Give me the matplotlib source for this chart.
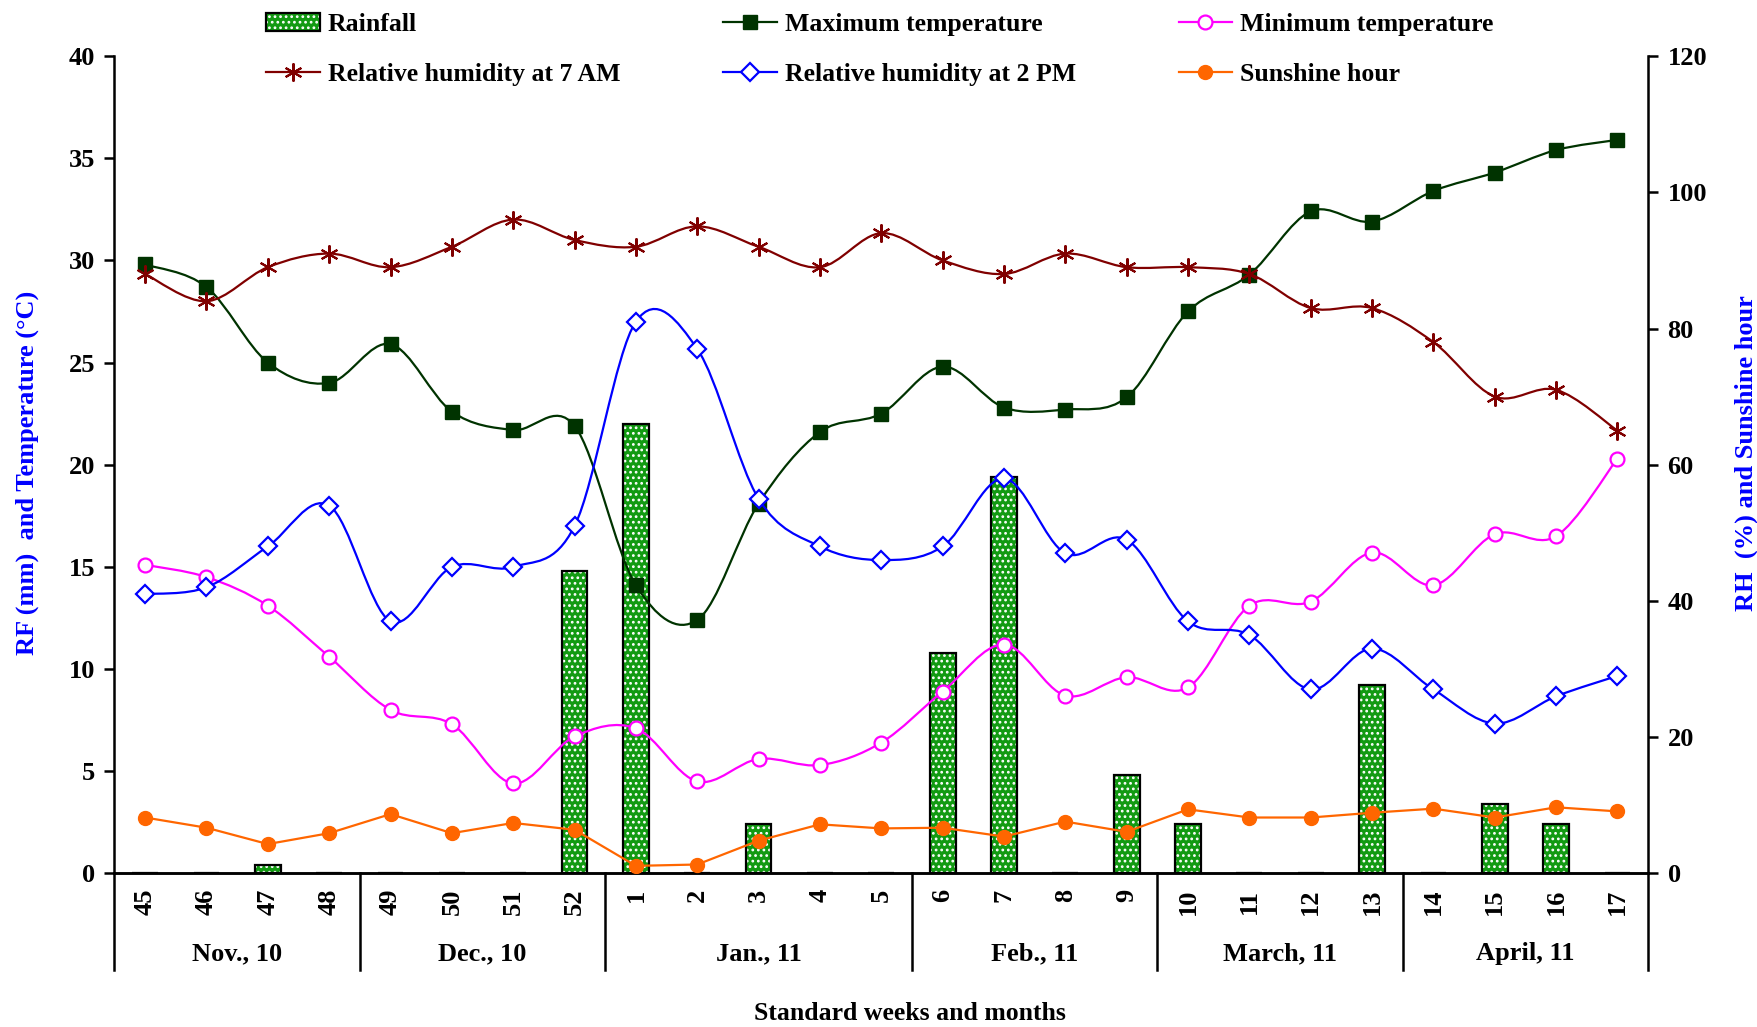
import numpy as np
import matplotlib
matplotlib.use("Agg")
import matplotlib.pyplot as plt
import matplotlib.patches as mpatches
from matplotlib.lines import Line2D
from matplotlib.path import Path

plt.rcParams['font.family'] = ['Liberation Serif', 'DejaVu Serif']
plt.rcParams['font.weight'] = 'bold'
plt.rcParams['hatch.linewidth'] = 1.2

# Data
weeks = ['45', '46', '47', '48', '49', '50', '51', '52', '1', '2', '3', '4', '5',
         '6', '7', '8', '9', '10', '11', '12', '13', '14', '15', '16', '17']
months = ['Nov., 10', 'Dec., 10', 'Jan., 11', 'Feb., 11', 'March, 11', 'April, 11']
weeks_per_month = [4, 4, 5, 4, 4, 4]

rainfall = [0, 0, 0.4, 0, 0, 0, 0, 14.8, 22.0, 0, 2.4, 0, 0,
            10.8, 19.4, 0, 4.8, 2.4, 0, 0, 9.2, 0, 3.4, 2.4, 0]
max_temp = [29.8, 28.7, 25.0, 24.0, 25.9, 22.6, 21.7, 21.9, 14.1, 12.4, 18.1, 21.6, 22.5,
            24.8, 22.8, 22.7, 23.3, 27.5, 29.3, 32.4, 31.9, 33.4, 34.3, 35.4, 35.9]
min_temp = [15.1, 14.5, 13.1, 10.6, 8.0, 7.3, 4.4, 6.7, 7.1, 4.5, 5.6, 5.3, 6.4,
            8.9, 11.2, 8.7, 9.6, 9.1, 13.1, 13.3, 15.7, 14.1, 16.6, 16.5, 20.3]
rh_7am = [88, 84, 89, 91, 89, 92, 96, 93, 92, 95, 92, 89, 94,
          90, 88, 91, 89, 89, 88, 83, 83, 78, 70, 71, 65]
rh_2pm = [41, 42, 48, 54, 37, 45, 45, 51, 81, 77, 55, 48, 46,
          48, 58, 47, 49, 37, 35, 27, 33, 27, 22, 26, 29]
sunshine = [8.2, 6.7, 4.3, 5.9, 8.7, 5.9, 7.4, 6.4, 1.1, 1.3, 4.8, 7.2, 6.6,
            6.7, 5.4, 7.6, 6.1, 9.4, 8.2, 8.2, 8.9, 9.5, 8.2, 9.7, 9.1]

x = np.arange(len(weeks))


def smooth_path(xs, ys):
    # Excel-style smoothed line: Catmull-Rom segments as cubic Beziers
    p = np.column_stack([xs, ys]).astype(float)
    ext = np.vstack([p[0], p, p[-1]])
    verts = [p[0]]
    codes = [Path.MOVETO]
    for i in range(len(p) - 1):
        c1 = ext[i + 1] + (ext[i + 2] - ext[i]) / 6.0
        c2 = ext[i + 2] - (ext[i + 3] - ext[i + 1]) / 6.0
        verts += [c1, c2, ext[i + 2]]
        codes += [Path.CURVE4] * 3
    return Path(np.array(verts), codes)


fig = plt.figure(figsize=(17.58, 10.27), dpi=100)
ax = fig.add_axes([0.0651, 0.1496, 0.8724, 0.7958])
ax2 = ax.twinx()

bar_green = '#129a12'
ax.bar(x, rainfall, width=0.42, facecolor=bar_green, edgecolor='white',
       hatch='...', linewidth=0, zorder=2)
ax.bar(x, rainfall, width=0.42, fill=False, edgecolor='black', linewidth=1.6, zorder=3)

lw = 1.6
# Maximum temperature
ax.add_patch(mpatches.PathPatch(smooth_path(x, max_temp), fill=False,
                                edgecolor='#003300', lw=lw, zorder=4))
ax.plot(x, max_temp, ls='none', marker='s', ms=10, color='#003300', zorder=5)
# Minimum temperature
ax.add_patch(mpatches.PathPatch(smooth_path(x, min_temp), fill=False,
                                edgecolor='#ff00ff', lw=lw, zorder=4))
ax.plot(x, min_temp, ls='none', marker='o', ms=10, mfc='white', mec='#ff00ff',
        mew=1.6, zorder=5)

# Relative humidity at 7 AM
ax2.add_patch(mpatches.PathPatch(smooth_path(x, rh_7am), fill=False,
                                 edgecolor='#800000', lw=lw, zorder=4))
ax2.plot(x, rh_7am, ls='none', marker=(6, 2, 0), ms=13, color='#800000', mew=1.5, zorder=5)
# Relative humidity at 2 PM
ax2.add_patch(mpatches.PathPatch(smooth_path(x, rh_2pm), fill=False,
                                 edgecolor='#0000ff', lw=lw, zorder=4))
ax2.plot(x, rh_2pm, ls='none', marker='D', ms=9, mfc='white', mec='#0000ff',
         mew=1.6, zorder=5)
# Sunshine hour (straight segments)
ax2.plot(x, sunshine, ls='-', lw=lw, marker='o', ms=10, color='#ff6600', zorder=5)

ax.set_xlim(-0.5, len(weeks) - 0.5)
ax.set_ylim(0, 40)
ax2.set_ylim(0, 120)
ax.set_yticks(np.arange(0, 41, 5))
ax2.set_yticks(np.arange(0, 121, 20))
ax.set_xticks(x)
ax.set_xticklabels(weeks, rotation=90)

ax.tick_params(axis='x', length=0, pad=11, labelsize=19)
ax.tick_params(axis='y', length=7, width=1.8, pad=7, labelsize=19)
ax2.tick_params(axis='y', length=7, width=1.8, pad=7, labelsize=19)

for a in (ax, ax2):
    a.spines['top'].set_visible(False)
    for s in a.spines.values():
        s.set_linewidth(1.8)
ax.spines['right'].set_visible(False)
ax2.spines['left'].set_visible(False)

# month separators and names under the week labels
bounds = np.concatenate([[0], np.cumsum(weeks_per_month)]) - 0.5
trans = ax.get_xaxis_transform()
for b in bounds:
    ax.plot([b, b], [0, -0.118], transform=trans, clip_on=False, color='black', lw=1.8)
for m, lo, hi in zip(months, bounds[:-1], bounds[1:]):
    ax.text((lo + hi) / 2, -0.098, m, transform=trans, ha='center', va='center',
            fontsize=19, fontweight='bold')

fig.text(910 / 1758, 1 - 1013 / 1027, 'Standard weeks and months', ha='center', va='center',
         fontsize=18.5, fontweight='bold')
fig.text(27 / 1758, 1 - 473 / 1027, 'RF (mm)  and Temperature (°C)', rotation=90,
         ha='center', va='center', fontsize=19, fontweight='bold', color='#0000ff')
fig.text(1746 / 1758, 1 - 453 / 1027, 'RH  (%) and Sunshine hour', rotation=90,
         ha='center', va='center', fontsize=19, fontweight='bold', color='#0000ff')

# legend
h_rain = (mpatches.Patch(facecolor=bar_green, edgecolor='white', hatch='...', lw=0),
          mpatches.Patch(fill=False, edgecolor='black', lw=1.6))
h_max = Line2D([], [], color='#003300', lw=lw, marker='s', ms=10)
h_min = Line2D([], [], color='#ff00ff', lw=lw, marker='o', ms=10, mfc='white', mew=1.6)
h_rh7 = Line2D([], [], color='#800000', lw=lw, marker=(6, 2, 0), ms=13, mew=1.5)
h_rh2 = Line2D([], [], color='#0000ff', lw=lw, marker='D', ms=9, mfc='white', mew=1.6)
h_sun = Line2D([], [], color='#ff6600', lw=lw, marker='o', ms=10)

handles = [h_rain, h_rh7, h_max, h_rh2, h_min, h_sun]
labels = ['Rainfall', 'Relative humidity at 7 AM', 'Maximum temperature',
          'Relative humidity at 2 PM', 'Minimum temperature', 'Sunshine hour']
fig.legend(handles, labels, ncol=3, loc='upper left', bbox_to_anchor=(266 / 1758, 0.987),
           frameon=False, borderpad=0, borderaxespad=0, handlelength=2.1,
           handletextpad=0.3, columnspacing=4.0, labelspacing=1.05,
           prop={'size': 18.5, 'weight': 'bold'})

fig.savefig('out.png', dpi=100)
